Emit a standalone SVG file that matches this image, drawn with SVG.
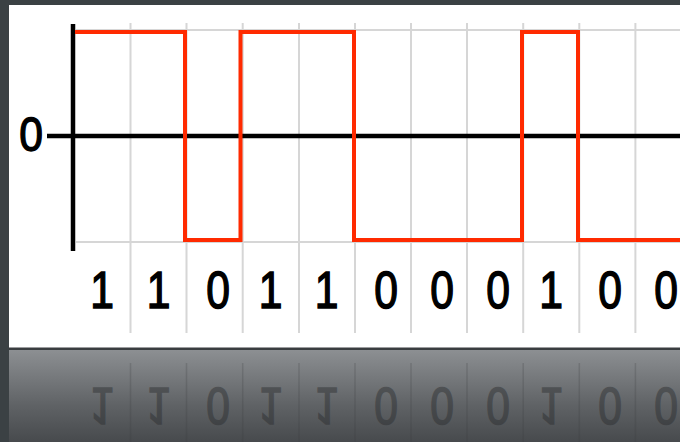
<svg xmlns="http://www.w3.org/2000/svg" width="680" height="442" viewBox="0 0 680 442">
  <defs>
    <style>
      .grid { stroke: #d6d6d6; stroke-width: 2; fill: none; }
      .axis { stroke: #000; stroke-width: 4.5; fill: none; }
      .sig { stroke: #ff2a00; stroke-width: 4; fill: none; stroke-linejoin: miter; }
      .bit { font-family: "Liberation Sans", Arial, sans-serif; font-size: 52px; fill: #000; stroke: #000; stroke-width: 1.5; text-anchor: middle; }
      .rbit { font-family: "Liberation Sans", Arial, sans-serif; font-size: 52px; fill: #2a2c2e; stroke: #2a2c2e; stroke-width: 1.5; text-anchor: middle; }
      .rgrid { stroke: #3c3e40; stroke-width: 1.5; opacity: 0.5; }
    </style>
    <linearGradient id="refl" x1="0" y1="0" x2="0" y2="1">
      <stop offset="0" stop-color="#8e9194"/>
      <stop offset="0.6" stop-color="#606366"/>
      <stop offset="1" stop-color="#474a4d"/>
    </linearGradient>
  </defs>

  <!-- dark frame -->
  <rect x="0" y="0" width="680" height="442" fill="#3b4144"/>
  <!-- white panel -->
  <rect x="9" y="5" width="671" height="343" fill="#ffffff"/>
  <!-- reflection area -->
  <rect x="9" y="348" width="671" height="94" fill="url(#refl)"/>
  <rect x="9" y="347.5" width="671" height="2.5" fill="#3a3d40"/>

  <g id="grid">
    <line class="grid" x1="76" y1="30" x2="680" y2="30"/>
    <line class="grid" x1="76" y1="242" x2="680" y2="242"/>
    <line class="grid" x1="130.5" y1="23" x2="130.5" y2="333"/>
    <line class="grid" x1="186.5" y1="23" x2="186.5" y2="333"/>
    <line class="grid" x1="242.7" y1="23" x2="242.7" y2="333"/>
    <line class="grid" x1="299" y1="23" x2="299" y2="333"/>
    <line class="grid" x1="355" y1="23" x2="355" y2="333"/>
    <line class="grid" x1="411" y1="23" x2="411" y2="333"/>
    <line class="grid" x1="467" y1="23" x2="467" y2="333"/>
    <line class="grid" x1="523.2" y1="23" x2="523.2" y2="333"/>
    <line class="grid" x1="579.3" y1="23" x2="579.3" y2="333"/>
    <line class="grid" x1="635.4" y1="23" x2="635.4" y2="333"/>
  </g>

  <g id="axes">
    <line class="axis" x1="47" y1="136" x2="680" y2="136"/>
    <line class="axis" x1="73" y1="24" x2="73" y2="251"/>
  </g>

  <g id="signal">
    <polyline class="sig" points="75,32 185,32 185,240 240.5,240 240.5,32 354,32 354,240 522,240 522,32 578,32 578,240 680,240"/>
  </g>

  <g id="zero-label">
    <text class="bit" transform="translate(31 151) scale(0.82 0.93)">0</text>
  </g>

  <g id="bits">
    <text class="bit" transform="translate(102 308) scale(0.82 1)">1</text>
    <text class="bit" transform="translate(158.7 308) scale(0.82 1)">1</text>
    <text class="bit" transform="translate(218 308) scale(0.82 1)">0</text>
    <text class="bit" transform="translate(270.7 308) scale(0.82 1)">1</text>
    <text class="bit" transform="translate(326.7 308) scale(0.82 1)">1</text>
    <text class="bit" transform="translate(386 308) scale(0.82 1)">0</text>
    <text class="bit" transform="translate(442 308) scale(0.82 1)">0</text>
    <text class="bit" transform="translate(498 308) scale(0.82 1)">0</text>
    <text class="bit" transform="translate(551 308) scale(0.82 1)">1</text>
    <text class="bit" transform="translate(610 308) scale(0.82 1)">0</text>
    <text class="bit" transform="translate(666 308) scale(0.82 1)">0</text>
  </g>

  <g id="reflection" opacity="0.45">
    <g transform="translate(0 696) scale(1 -1)">
      <line class="rgrid" x1="130.5" y1="333" x2="130.5" y2="254"/>
      <line class="rgrid" x1="186.5" y1="333" x2="186.5" y2="254"/>
      <line class="rgrid" x1="242.7" y1="333" x2="242.7" y2="254"/>
      <line class="rgrid" x1="299" y1="333" x2="299" y2="254"/>
      <line class="rgrid" x1="355" y1="333" x2="355" y2="254"/>
      <line class="rgrid" x1="411" y1="333" x2="411" y2="254"/>
      <line class="rgrid" x1="467" y1="333" x2="467" y2="254"/>
      <line class="rgrid" x1="523.2" y1="333" x2="523.2" y2="254"/>
      <line class="rgrid" x1="579.3" y1="333" x2="579.3" y2="254"/>
      <line class="rgrid" x1="635.4" y1="333" x2="635.4" y2="254"/>
      <text class="rbit" transform="translate(102 308) scale(0.82 1)">1</text>
      <text class="rbit" transform="translate(158.7 308) scale(0.82 1)">1</text>
      <text class="rbit" transform="translate(218 308) scale(0.82 1)">0</text>
      <text class="rbit" transform="translate(270.7 308) scale(0.82 1)">1</text>
      <text class="rbit" transform="translate(326.7 308) scale(0.82 1)">1</text>
      <text class="rbit" transform="translate(386 308) scale(0.82 1)">0</text>
      <text class="rbit" transform="translate(442 308) scale(0.82 1)">0</text>
      <text class="rbit" transform="translate(498 308) scale(0.82 1)">0</text>
      <text class="rbit" transform="translate(551 308) scale(0.82 1)">1</text>
      <text class="rbit" transform="translate(610 308) scale(0.82 1)">0</text>
      <text class="rbit" transform="translate(666 308) scale(0.82 1)">0</text>
    </g>
  </g>
</svg>
